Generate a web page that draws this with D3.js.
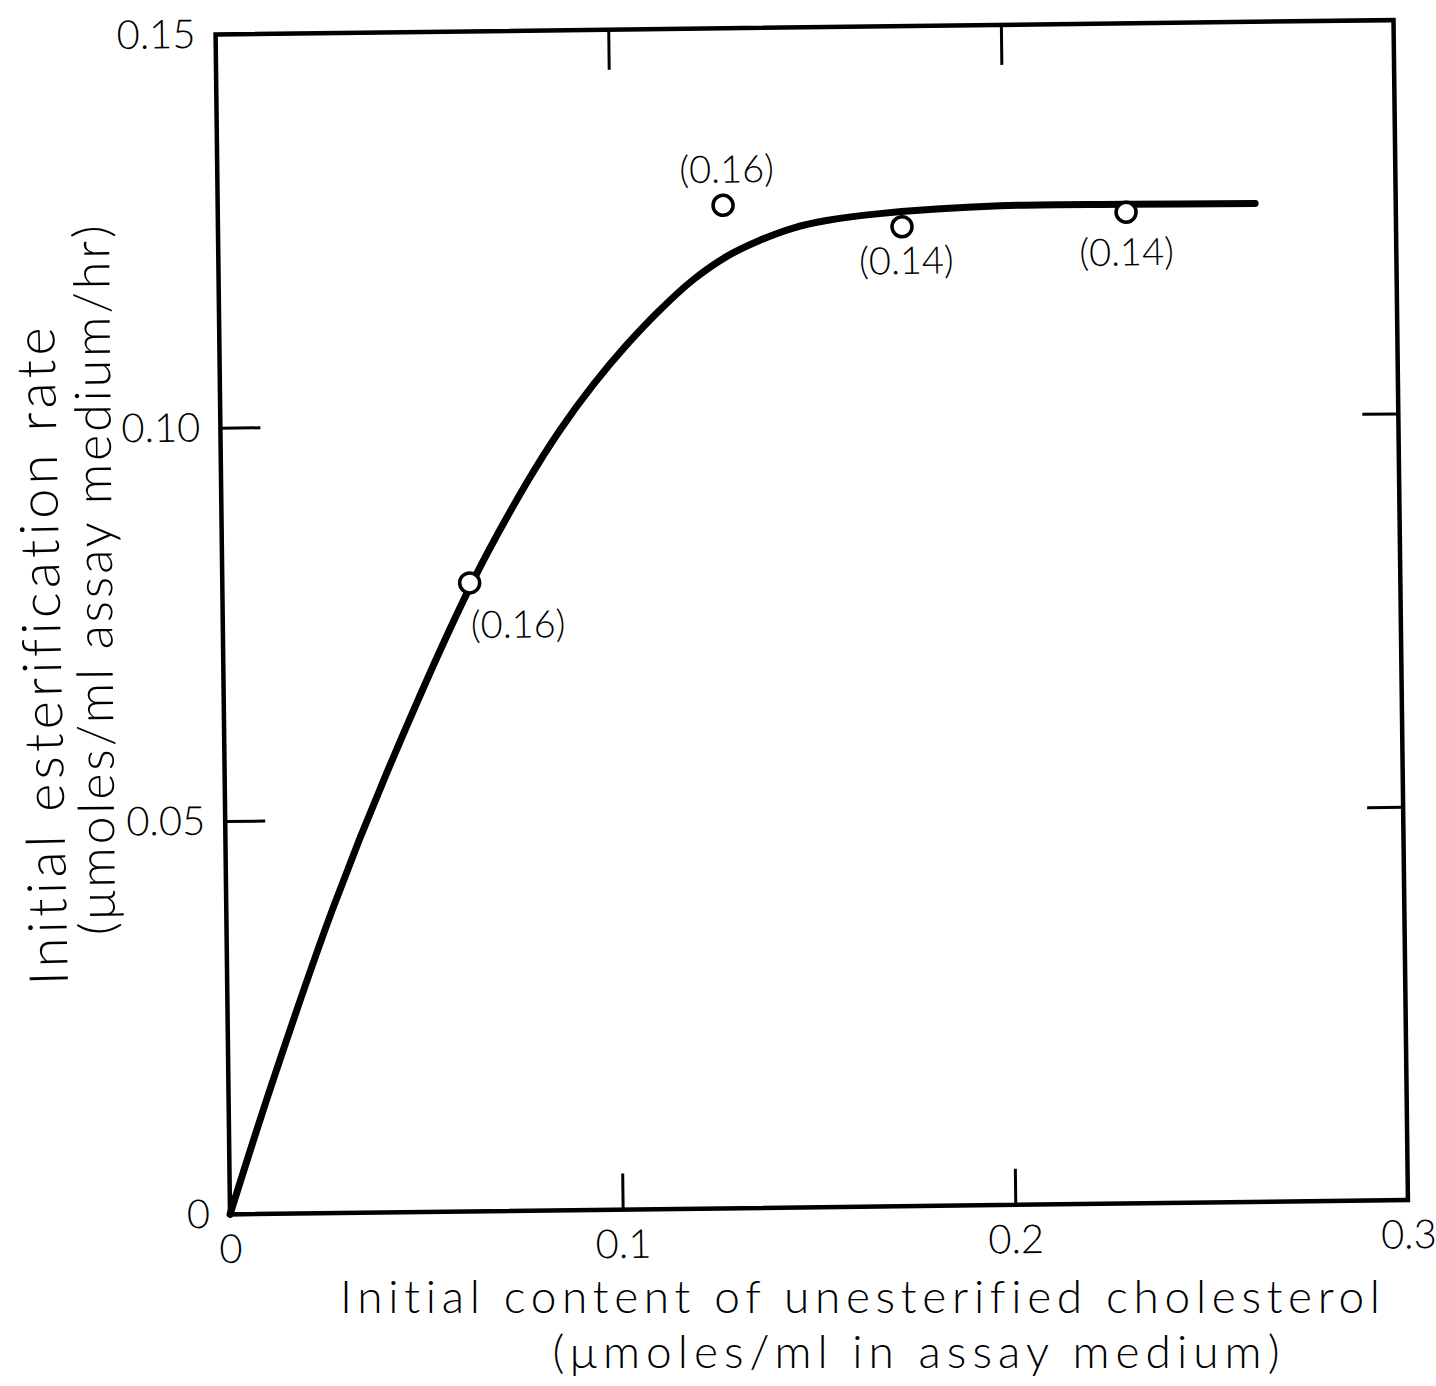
<!DOCTYPE html>
<html>
<head>
<meta charset="utf-8">
<script src="https://cdn.jsdelivr.net/npm/d3@7"></script>
<style>
  body { margin: 0; background: #fff; }
  svg text { font-family: "Lato", "Open Sans", "DejaVu Sans", sans-serif; font-weight: 300; fill: #000; font-variant-ligatures: none; }
</style>
</head>
<body>
<div id="chart"></div>
<script>
// fitted curve
var curveX = [0, 0.0114, 0.0272, 0.0414, 0.0635, 0.0778, 0.0865, 0.0951, 0.1037, 0.1123, 0.1209, 0.1295, 0.1380, 0.1465, 0.1550, 0.1686, 0.1992, 0.2313, 0.2642];
var curveY = [0, 0.0170, 0.0388, 0.0560, 0.0798, 0.0925, 0.0992, 0.1049, 0.1099, 0.1143, 0.1181, 0.1210, 0.1230, 0.1245, 0.1254, 0.1262, 0.1270, 0.1270, 0.1269];

// measured points
var pointX = [0.0630, 0.1287, 0.1742, 0.2313];
var pointY = [0.0799, 0.1275, 0.1245, 0.1260];
var pointLabels = ["(0.16)", "(0.16)", "(0.14)", "(0.14)"];

var xTickValues = [0, 0.1, 0.2, 0.3];
var xTickLabels = ["0", "0.1", "0.2", "0.3"];
var yTickValues = [0, 0.05, 0.1, 0.15];
var yTickLabels = ["0", "0.05", "0.10", "0.15"];

var xTitle = ["Initial content of unesterified cholesterol", "(\u03bcmoles/ml in assay medium)"];
var yTitle = ["Initial esterification rate", "(\u03bcmoles/ml assay medium/hr)"];

var W = 1436, H = 1386;
var plotL = 222.75, plotR = 1400.75, plotT = 27.25, plotB = 1207.25;   // window.top is taken, so no "top"
var cx = (plotL + plotR) / 2, cy = (plotT + plotB) / 2;

var svg = d3.select("#chart").append("svg")
  .attr("width", W).attr("height", H)
  .style("display", "block");

svg.append("rect").attr("width", W).attr("height", H).attr("fill", "#fff");

var g = svg.append("g")
  .attr("transform", "rotate(-0.7," + cx + "," + cy + ")");   // paper sits a little crooked

var x = d3.scaleLinear().domain([0, 0.3]).range([plotL, plotR]);
var y = d3.scaleLinear().domain([0, 0.15]).range([plotB, plotT]);

// frame
g.append("rect")
  .attr("x", plotL).attr("y", plotT)
  .attr("width", plotR - plotL).attr("height", plotB - plotT)
  .attr("fill", "none").attr("stroke", "#000").attr("stroke-width", 4.5);

// inner ticks on all four sides
function ticks(axis, tr) {
  var a = g.append("g").attr("transform", tr).call(axis);
  a.select(".domain").remove();
  a.selectAll("line").attr("stroke", "#000").attr("stroke-width", 3);
  return a;
}
ticks(d3.axisBottom(x).tickValues([0.1, 0.2]).tickSize(-36).tickFormat(""), "translate(0," + plotB + ")");
ticks(d3.axisTop(x).tickValues([0.1, 0.2]).tickSize(-40).tickFormat(""), "translate(0," + plotT + ")");
ticks(d3.axisLeft(y).tickValues([0.05, 0.1]).tickSize(-40).tickFormat(""), "translate(" + plotL + ",0)");
ticks(d3.axisRight(y).tickValues([0.05, 0.1]).tickSize(-36).tickFormat(""), "translate(" + plotR + ",0)");

// tick labels
var xl = g.append("g").attr("transform", "translate(0," + plotB + ")")
  .call(d3.axisBottom(x).tickValues(xTickValues).tickSize(0).tickPadding(20)
    .tickFormat(function(d, i) { return xTickLabels[i]; }));
xl.select(".domain").remove();
xl.selectAll("text").attr("font-size", 40).attr("fill", "#000");

var yl = g.append("g").attr("transform", "translate(" + plotL + ",0)")
  .call(d3.axisLeft(y).tickValues(yTickValues).tickSize(0).tickPadding(20)
    .tickFormat(function(d, i) { return yTickLabels[i]; }));
yl.select(".domain").remove();
yl.selectAll("text").attr("font-size", 40).attr("fill", "#000");

// curve
var line = d3.line()
  .x(function(d) { return x(d[0]); })
  .y(function(d) { return y(d[1]); })
  .curve(d3.curveCatmullRom.alpha(0.5));

g.append("path")
  .datum(d3.zip(curveX, curveY))
  .attr("d", line)
  .attr("fill", "none").attr("stroke", "#000")
  .attr("stroke-width", 7).attr("stroke-linecap", "round").attr("stroke-linejoin", "round");

// points + labels
var pts = d3.zip(pointX, pointY, pointLabels);
var labelOff = [[48, 42], [4, -36], [4, 34], [0, 40]];

g.selectAll("circle.pt").data(pts).enter()
  .append("circle").attr("class", "pt")
  .attr("cx", function(d) { return x(d[0]); })
  .attr("cy", function(d) { return y(d[1]); })
  .attr("r", 10)
  .attr("fill", "#fff").attr("stroke", "#000").attr("stroke-width", 3.5);

g.selectAll("text.pl").data(pts).enter()
  .append("text").attr("class", "pl")
  .attr("x", function(d, i) { return x(d[0]) + labelOff[i][0]; })
  .attr("y", function(d, i) { return y(d[1]) + labelOff[i][1]; })
  .attr("dy", "0.35em")
  .attr("text-anchor", "middle")
  .attr("font-size", 38)
  .text(function(d) { return d[2]; });

// axis titles
svg.append("text")
  .attr("x", 860).attr("y", 1313)
  .attr("text-anchor", "middle").attr("font-size", 46)
  .attr("textLength", 1040).attr("lengthAdjust", "spacing")
  .text(xTitle[0]);
svg.append("text")
  .attr("x", 916).attr("y", 1368)
  .attr("text-anchor", "middle").attr("font-size", 46)
  .attr("textLength", 727).attr("lengthAdjust", "spacing")
  .text(xTitle[1]);

svg.append("text")
  .attr("transform", "translate(61,656) rotate(-91.2)")
  .attr("text-anchor", "middle").attr("font-size", 54)
  .attr("textLength", 658).attr("lengthAdjust", "spacing")
  .text(yTitle[0]);
svg.append("text")
  .attr("transform", "translate(112,580) rotate(-90.5)")
  .attr("text-anchor", "middle").attr("font-size", 50)
  .attr("textLength", 710).attr("lengthAdjust", "spacing")
  .text(yTitle[1]);
</script>
</body>
</html>
